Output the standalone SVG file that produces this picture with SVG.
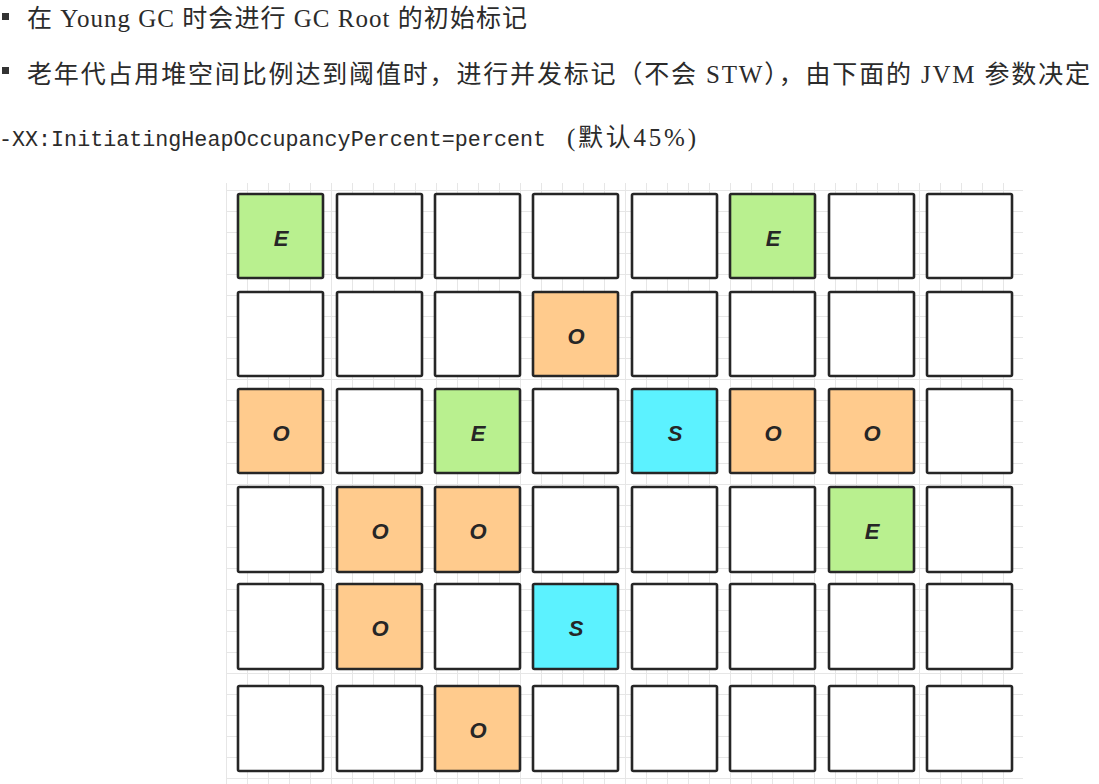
<svg xmlns="http://www.w3.org/2000/svg" width="1099" height="784" viewBox="0 0 1099 784">
<defs>
<pattern id="grid" patternUnits="userSpaceOnUse" x="226" y="190" width="21" height="21">
<path d="M0 0.5H21M0.5 0V21" fill="none" stroke="#e6e6e6" stroke-width="1"/>
</pattern>
<style>
.t{font-family:"Liberation Serif","Noto Sans CJK SC",serif;font-size:25px;fill:#2b2b2b}
.m{font-family:"Liberation Mono","DejaVu Sans Mono",monospace;font-size:21.7px;fill:#2b2b2b}
.c rect{stroke:#262626;stroke-width:2.6;rx:1.5}
.c text{font-family:"Liberation Sans","DejaVu Sans",sans-serif;font-size:22px;font-weight:bold;font-style:italic;fill:#262626;text-anchor:middle}
.w{fill:#ffffff}
.g{fill:#b9f08f}
.o{fill:#ffcb8d}
.s{fill:#5cf2ff}
</style>
</defs>
<rect width="1099" height="784" fill="#ffffff"/>
<rect x="226" y="183" width="797" height="601" fill="url(#grid)"/>
<g id="text">
<rect x="2" y="13" width="7" height="7" fill="#333"/>
<text class="t" x="27" y="27" textLength="500" lengthAdjust="spacing">在 Young GC 时会进行 GC Root 的初始标记</text>
<rect x="2" y="67" width="7" height="7" fill="#333"/>
<text class="t" x="27" y="83" textLength="1063" lengthAdjust="spacing">老年代占用堆空间比例达到阈值时，进行并发标记（不会 STW），由下面的 JVM 参数决定</text>
<text class="m" x="-1" y="146" textLength="547" lengthAdjust="spacing">-XX:InitiatingHeapOccupancyPercent=percent</text>
<text class="t" x="567" y="146" font-size="24" textLength="129" lengthAdjust="spacing">(默认45%)</text>
</g>
<g id="connectors"/>
<g class="c">
<g id="r1c1"><rect class="g" x="238" y="194" width="85" height="84"/><text x="281" y="246">E</text></g>
<g id="r1c2"><rect class="w" x="337" y="194" width="85" height="84"/></g>
<g id="r1c3"><rect class="w" x="435" y="194" width="85" height="84"/></g>
<g id="r1c4"><rect class="w" x="533" y="194" width="85" height="84"/></g>
<g id="r1c5"><rect class="w" x="632" y="194" width="85" height="84"/></g>
<g id="r1c6"><rect class="g" x="730" y="194" width="85" height="84"/><text x="773" y="246">E</text></g>
<g id="r1c7"><rect class="w" x="829" y="194" width="85" height="84"/></g>
<g id="r1c8"><rect class="w" x="927" y="194" width="85" height="84"/></g>

<g id="r2c1"><rect class="w" x="238" y="292" width="85" height="84"/></g>
<g id="r2c2"><rect class="w" x="337" y="292" width="85" height="84"/></g>
<g id="r2c3"><rect class="w" x="435" y="292" width="85" height="84"/></g>
<g id="r2c4"><rect class="o" x="533" y="292" width="85" height="84"/><text x="576" y="344">O</text></g>
<g id="r2c5"><rect class="w" x="632" y="292" width="85" height="84"/></g>
<g id="r2c6"><rect class="w" x="730" y="292" width="85" height="84"/></g>
<g id="r2c7"><rect class="w" x="829" y="292" width="85" height="84"/></g>
<g id="r2c8"><rect class="w" x="927" y="292" width="85" height="84"/></g>

<g id="r3c1"><rect class="o" x="238" y="389" width="85" height="84"/><text x="281" y="441">O</text></g>
<g id="r3c2"><rect class="w" x="337" y="389" width="85" height="84"/></g>
<g id="r3c3"><rect class="g" x="435" y="389" width="85" height="84"/><text x="478" y="441">E</text></g>
<g id="r3c4"><rect class="w" x="533" y="389" width="85" height="84"/></g>
<g id="r3c5"><rect class="s" x="632" y="389" width="85" height="84"/><text x="675" y="441">S</text></g>
<g id="r3c6"><rect class="o" x="730" y="389" width="85" height="84"/><text x="773" y="441">O</text></g>
<g id="r3c7"><rect class="o" x="829" y="389" width="85" height="84"/><text x="872" y="441">O</text></g>
<g id="r3c8"><rect class="w" x="927" y="389" width="85" height="84"/></g>

<g id="r4c1"><rect class="w" x="238" y="487" width="85" height="85"/></g>
<g id="r4c2"><rect class="o" x="337" y="487" width="85" height="85"/><text x="380" y="539">O</text></g>
<g id="r4c3"><rect class="o" x="435" y="487" width="85" height="85"/><text x="478" y="539">O</text></g>
<g id="r4c4"><rect class="w" x="533" y="487" width="85" height="85"/></g>
<g id="r4c5"><rect class="w" x="632" y="487" width="85" height="85"/></g>
<g id="r4c6"><rect class="w" x="730" y="487" width="85" height="85"/></g>
<g id="r4c7"><rect class="g" x="829" y="487" width="85" height="85"/><text x="872" y="539">E</text></g>
<g id="r4c8"><rect class="w" x="927" y="487" width="85" height="85"/></g>

<g id="r5c1"><rect class="w" x="238" y="584" width="85" height="85"/></g>
<g id="r5c2"><rect class="o" x="337" y="584" width="85" height="85"/><text x="380" y="636">O</text></g>
<g id="r5c3"><rect class="w" x="435" y="584" width="85" height="85"/></g>
<g id="r5c4"><rect class="s" x="533" y="584" width="85" height="85"/><text x="576" y="636">S</text></g>
<g id="r5c5"><rect class="w" x="632" y="584" width="85" height="85"/></g>
<g id="r5c6"><rect class="w" x="730" y="584" width="85" height="85"/></g>
<g id="r5c7"><rect class="w" x="829" y="584" width="85" height="85"/></g>
<g id="r5c8"><rect class="w" x="927" y="584" width="85" height="85"/></g>

<g id="r6c1"><rect class="w" x="238" y="686" width="85" height="85"/></g>
<g id="r6c2"><rect class="w" x="337" y="686" width="85" height="85"/></g>
<g id="r6c3"><rect class="o" x="435" y="686" width="85" height="85"/><text x="478" y="738">O</text></g>
<g id="r6c4"><rect class="w" x="533" y="686" width="85" height="85"/></g>
<g id="r6c5"><rect class="w" x="632" y="686" width="85" height="85"/></g>
<g id="r6c6"><rect class="w" x="730" y="686" width="85" height="85"/></g>
<g id="r6c7"><rect class="w" x="829" y="686" width="85" height="85"/></g>
<g id="r6c8"><rect class="w" x="927" y="686" width="85" height="85"/></g>
</g>
</svg>
